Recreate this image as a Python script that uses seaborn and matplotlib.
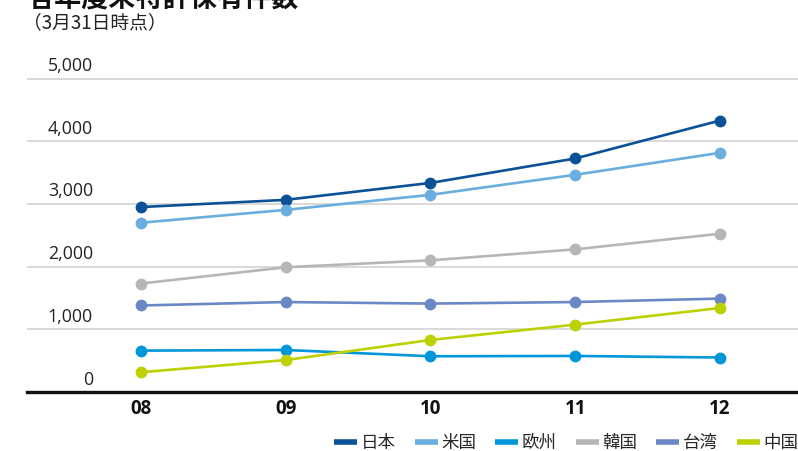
import matplotlib
matplotlib.use("Agg")
import matplotlib.pyplot as plt
import matplotlib.transforms as mtransforms
from matplotlib.lines import Line2D
import pandas as pd
import seaborn as sns

# Fiscal year-end (March 31) patent holdings by region
years = ["08", "09", "10", "11", "12"]
regions = ["日本", "米国", "欧州", "韓国", "台湾", "中国"]
japan = [2950, 3065, 3335, 3725, 4330]
usa = [2700, 2905, 3145, 3465, 3815]
europe = [660, 670, 570, 575, 550]
korea = [1730, 1990, 2100, 2275, 2525]
taiwan = [1380, 1435, 1410, 1435, 1490]
china = [315, 510, 830, 1075, 1340]
colors = ["#0A5197", "#6AAEDF", "#0096DA", "#B6B6B6", "#6B88C6", "#BDD000"]
y_ticks = [0, 1000, 2000, 3000, 4000, 5000]
y_tick_labels = ["0", "1,000", "2,000", "3,000", "4,000", "5,000"]

series = [japan, usa, europe, korea, taiwan, china]
df = pd.DataFrame(
    [(y, r, v) for r, vals in zip(regions, series) for y, v in zip(years, vals)],
    columns=["year", "region", "count"],
)

sns.set_theme(style="white")
plt.rcParams["font.family"] = ["Open Sans", "Noto Sans CJK JP", "DejaVu Sans"]

fig = plt.figure(figsize=(7.98, 4.51), dpi=100)
W, H = 798, 451
ax = fig.add_axes([27 / W, (H - 392) / H, 1 - 27 / W, (392 - 66) / H])

sns.lineplot(
    data=df, x="year", y="count", hue="region", hue_order=regions,
    palette=colors, marker="o", markersize=8.5, markeredgewidth=0,
    linewidth=1.9, legend=False, ax=ax, zorder=3,
)

ax.set_xlim(-0.7876, 4.539)
ax.set_ylim(0, 5200)
ax.set_xlabel("")
ax.set_ylabel("")

# horizontal grid
ax.set_yticks(y_ticks)
ax.set_yticklabels(y_tick_labels)
ax.yaxis.grid(True, color="#D9D9D9", linewidth=1.4)
ax.xaxis.grid(False)
ax.set_axisbelow(True)
ax.tick_params(axis="y", length=0, pad=-47.5, labelsize=12.8, labelcolor="#222222")
offset = mtransforms.ScaledTranslation(0, 2.5 / 72, fig.dpi_scale_trans)
for lbl in ax.get_yticklabels():
    lbl.set_horizontalalignment("right")
    lbl.set_verticalalignment("bottom")
    lbl.set_transform(lbl.get_transform() + offset)

ax.tick_params(axis="x", length=0, pad=5, labelsize=13.5, labelcolor="#111111")
for lbl in ax.get_xticklabels():
    lbl.set_fontweight("bold")

for side in ["top", "right", "left"]:
    ax.spines[side].set_visible(False)
ax.spines["bottom"].set_color("#111111")
ax.spines["bottom"].set_linewidth(2.4)

# titles
fig.text(27 / W, 1 - 8 / H, "各年度末特許保有件数", fontsize=19.5, fontweight="bold",
         color="#111111", ha="left", va="baseline",
         family=["Noto Sans CJK JP", "DejaVu Sans"])
fig.text(23 / W, 1 - 23 / H, "（3月31日時点）", fontsize=13.5, color="#222222",
         ha="left", va="center", family=["Noto Sans CJK JP", "DejaVu Sans"])

handles = [Line2D([], [], color=c, lw=4, solid_capstyle="butt") for c in colors]
fig.legend(
    handles, regions, loc="center right", bbox_to_anchor=(1.0, 8 / H),
    bbox_transform=fig.transFigure, ncol=6, frameon=False,
    handlelength=1.3, handletextpad=0.2, columnspacing=1.1, borderpad=0,
    borderaxespad=0, prop={"family": ["Noto Sans CJK JP", "DejaVu Sans"], "size": 12.6},
)

fig.savefig("out.png", dpi=100)
